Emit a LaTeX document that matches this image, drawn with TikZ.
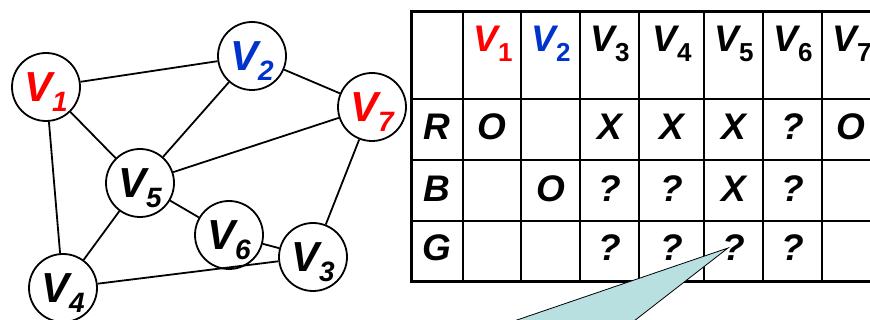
\documentclass[tikz,border=0pt]{standalone}
\usepackage{fontspec}
\setmainfont{Liberation Sans}
\definecolor{vred}{RGB}{255,0,0}
\definecolor{vblue}{RGB}{0,51,204}
\definecolor{calloutfill}{RGB}{185,224,225}
\newcommand{\nlab}[1]{\fontsize{42}{42}\selectfont\bfseries\itshape V\raisebox{-10pt}[0pt][0pt]{\fontsize{28}{28}\selectfont #1}}
\newcommand{\tlab}[1]{\fontsize{37}{37}\selectfont\bfseries\itshape V\raisebox{-10pt}[0pt][0pt]{\fontsize{26}{26}\selectfont\upshape #1}}
\begin{document}
\begin{tikzpicture}[x=1pt,y=-1pt,
  vert/.style={circle,draw,line width=1.8pt,minimum size=68pt,inner sep=0pt,fill=white},
  edge/.style={line width=1.8pt},
  cell/.style={font=\fontsize{37}{37}\selectfont\bfseries\itshape,inner sep=0pt},
  hcell/.style={inner sep=0pt},
  thin/.style={line width=1.2pt},
  thick/.style={line width=3pt}]
\useasboundingbox (0,0) rectangle (870,320);
\clip (0,0) rectangle (870,320);
% graph
\node[vert,text=vred] (v1) at (46,87) {\nlab{1}};
\node[vert,text=vblue] (v2) at (252,56) {\nlab{2}};
\node[vert,text=vred] (v7) at (372,107) {\nlab{7}};
\node[vert] (v5) at (140,183) {\nlab{5}};
\node[vert] (v6) at (229,235) {\nlab{6}};
\node[vert] (v3) at (313,257) {\nlab{3}};
\node[vert] (v4) at (63,288) {\nlab{4}};
\draw[edge] (v1) -- (v2);
\draw[edge] (v2) -- (v7);
\draw[edge] (v1) -- (v5);
\draw[edge] (v1) -- (v4);
\draw[edge] (v2) -- (v5);
\draw[edge] (v7) -- (v5);
\draw[edge] (v7) -- (v3);
\draw[edge] (v5) -- (v6);
\draw[edge] (v6) -- (v3);
\draw[edge] (v5) -- (v4);
\draw[edge] (v4) -- (v3);
% table grid
\foreach \x in {463,521,580,639,704,763,822}
  \draw[thin] (\x,12) -- (\x,282);
\foreach \y in {99,160,221}
  \draw[thin] (411,\y) -- (890,\y);
\draw[thick] (890,12) -- (411,12) -- (411,282) -- (890,282);
% header
\node[hcell,text=vred] (h1) at (493,39) {\tlab{1}};
\node[hcell,text=vblue] (h2) at (551,39) {\tlab{2}};
\node[hcell] (h3) at (610,39) {\tlab{3}};
\node[hcell] (h4) at (672,39) {\tlab{4}};
\node[hcell] (h5) at (734,39) {\tlab{5}};
\node[hcell] (h6) at (793,39) {\tlab{6}};
\node[hcell] (h7) at (852,39) {\tlab{7}};
% rows
\node[cell] (rR) at (437,127) {R};
\node[cell] (rB) at (437,189) {B};
\node[cell] (rG) at (437,248) {G};
\node[cell] (r1) at (492,127) {O};
\node[cell] (r3) at (610,127) {X};
\node[cell] (r4) at (672,127) {X};
\node[cell] (r5) at (734,127) {X};
\node[cell] (r6) at (793,127) {?};
\node[cell] (r7) at (851,127) {O};
\node[cell] (b2) at (551,189) {O};
\node[cell] (b3) at (610,189) {?};
\node[cell] (b4) at (672,189) {?};
\node[cell] (b5) at (734,189) {X};
\node[cell] (b6) at (793,189) {?};
\node[cell] (g3) at (610,248) {?};
\node[cell] (g4) at (672,248) {?};
\node[cell] (g5) at (734,248) {?};
\node[cell] (g6) at (793,248) {?};
% callout
\coordinate (tip) at (728,248);
\coordinate (bl) at (473,335);
\coordinate (br) at (616,335);
\fill[calloutfill] (bl) -- (br) -- (tip) -- cycle;
\draw[line width=0.8pt] (bl) -- (tip) -- (br);
\end{tikzpicture}
\end{document}
